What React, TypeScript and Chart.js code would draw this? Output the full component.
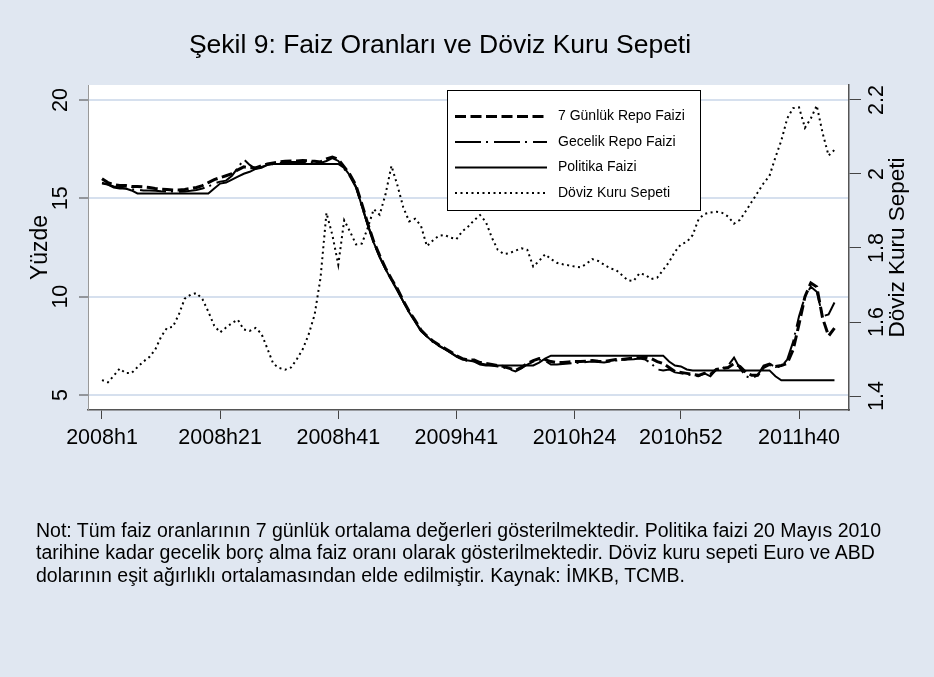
import React, { useEffect, useRef } from 'react';
import { Chart, registerables } from 'chart.js';

Chart.register(...registerables);

const FONT = "'Liberation Sans', Arial, Helvetica, sans-serif";
const BG = '#e0e7f1';
const GRID = '#d6e0ee';

const TITLE = 'Şekil 9: Faiz Oranları ve Döviz Kuru Sepeti';
const NOTE_LINES = [
  'Not: Tüm faiz oranlarının 7 günlük ortalama değerleri gösterilmektedir. Politika faizi 20 Mayıs 2010',
  'tarihine kadar gecelik borç alma faiz oranı olarak gösterilmektedir. Döviz kuru sepeti Euro ve ABD',
  'dolarının eşit ağırlıklı ortalamasından elde edilmiştir. Kaynak: İMKB, TCMB.',
];
const SERIES_NAMES = ['7 Günlük Repo Faizi', 'Gecelik Repo Faizi', 'Politika Faizi', 'Döviz Kuru Sepeti'];
const LEFT_TITLE = 'Yüzde';
const RIGHT_TITLE = 'Döviz Kuru Sepeti';

const X_TICK_POS = [0, 20, 40, 60, 80, 98, 118];
const X_TICK_LABELS = ['2008h1', '2008h21', '2008h41', '2009h41', '2010h24', '2010h52', '2011h40'];
const LEFT_TICKS = [5, 10, 15, 20];
const RIGHT_TICKS = [1.4, 1.6, 1.8, 2, 2.2];

// observation index (weekly observations, 125 of them)
const OBS = Array.from({ length: 125 }, (_, i) => i);

const REPO_7 = [
  16.0, 15.8, 15.7, 15.65, 15.65, 15.6, 15.6, 15.58, 15.55, 15.5,
  15.47, 15.45, 15.43, 15.42, 15.45, 15.5, 15.55, 15.65, 15.8, 15.95,
  16.05, 16.15, 16.25, 16.45, 16.6, 16.55, 16.55, 16.65, 16.75, 16.8,
  16.85, 16.88, 16.9, 16.9, 16.92, 16.9, 16.88, 16.85, 17.0, 17.1,
  16.98, 16.6, 16.2, 15.65, 14.7, 13.7, 12.8, 12.1, 11.45, 10.9,
  10.4, 9.8, 9.25, 8.8, 8.3, 8.0, 7.75, 7.55, 7.38, 7.2,
  7.0, 6.85, 6.78, 6.78, 6.65, 6.6, 6.55, 6.5, 6.45, 6.35,
  6.25, 6.4, 6.6, 6.75, 6.85, 6.8, 6.7, 6.65, 6.65, 6.68,
  6.7, 6.7, 6.72, 6.75, 6.72, 6.7, 6.75, 6.8, 6.8, 6.85,
  6.88, 6.9, 6.92, 6.85, 6.7, 6.6, 6.4, 6.2, 6.15, 6.1,
  6.05, 6.0, 6.1, 6.05, 6.3, 6.35, 6.4, 6.6, 6.45, 6.15,
  6.0, 6.0, 6.4, 6.55, 6.45, 6.5, 6.6, 7.3, 8.6, 10.0,
  10.7, 10.5, 8.9, 8.0, 8.4,
];

const GECELIK = [
  15.8, 15.7, 15.6, 15.55, 15.5, 15.45, 15.45, 15.4, 15.4, 15.38,
  15.36, 15.35, 15.35, 15.33, 15.35, 15.38, 15.42, 15.5, 15.6, 15.75,
  15.85, 15.9, 16.15, 16.55, 16.98, 16.7, 16.5, 16.55, 16.7, 16.75,
  16.8, 16.82, 16.85, 16.85, 16.85, 16.85, 16.82, 16.8, 16.9, 17.05,
  16.9, 16.5, 16.1, 15.55, 14.6, 13.65, 12.75, 12.0, 11.4, 10.85,
  10.3, 9.75, 9.2, 8.75, 8.28, 7.98, 7.7, 7.5, 7.33, 7.15,
  6.95, 6.8, 6.72, 6.72, 6.6, 6.55, 6.5, 6.45, 6.4, 6.3,
  6.2, 6.35, 6.55, 6.7, 6.8, 6.75, 6.55, 6.55, 6.58, 6.6,
  6.62, 6.65, 6.68, 6.7, 6.68, 6.65, 6.7, 6.75, 6.78, 6.8,
  6.82, 6.85, 6.8, 6.6, 6.3, 6.25, 6.3, 6.15, 6.1, 6.05,
  6.0, 5.95, 6.1, 5.95, 6.3, 6.35, 6.5, 6.9, 6.35, 5.95,
  5.85, 6.0, 6.5, 6.6, 6.4, 6.45, 6.8, 7.7, 9.0, 10.0,
  10.5, 10.25, 9.0, 9.1, 9.7,
];

const POLITIKA = [
  15.75, 15.7, 15.55, 15.5, 15.5, 15.4, 15.25, 15.25, 15.25, 15.25,
  15.25, 15.25, 15.25, 15.25, 15.25, 15.25, 15.25, 15.25, 15.25, 15.5,
  15.75, 15.8, 15.95, 16.1, 16.25, 16.35, 16.5, 16.6, 16.7, 16.75,
  16.75, 16.75, 16.75, 16.75, 16.75, 16.75, 16.75, 16.75, 16.75, 16.75,
  16.75, 16.55, 16.15, 15.6, 14.6, 13.65, 12.75, 12.05, 11.4, 10.85,
  10.35, 9.75, 9.2, 8.73, 8.25, 7.97, 7.72, 7.52, 7.35, 7.15,
  6.98, 6.8, 6.75, 6.7, 6.55, 6.5, 6.5, 6.5, 6.5, 6.5,
  6.5, 6.5, 6.5, 6.5, 6.65, 6.85, 7.0, 7.0, 7.0, 7.0,
  7.0, 7.0, 7.0, 7.0, 7.0, 7.0, 7.0, 7.0, 7.0, 7.0,
  7.0, 7.0, 7.0, 7.0, 7.0, 7.0, 6.7, 6.5, 6.45, 6.3,
  6.25, 6.25, 6.25, 6.25, 6.25, 6.25, 6.25, 6.25, 6.25, 6.25,
  6.25, 6.25, 6.25, 6.25, 5.95, 5.75, 5.75, 5.75, 5.75, 5.75,
  5.75, 5.75, 5.75, 5.75, 5.75,
];

const DOVIZ = [
  1.443, 1.437, 1.455, 1.474, 1.462, 1.462, 1.478, 1.493, 1.505, 1.525,
  1.56, 1.584, 1.587, 1.62, 1.663, 1.674, 1.678, 1.662, 1.628, 1.59,
  1.572, 1.585, 1.597, 1.606, 1.58, 1.576, 1.584, 1.568, 1.528, 1.487,
  1.476, 1.471, 1.477, 1.5, 1.527, 1.567, 1.62, 1.72, 1.895, 1.835,
  1.755, 1.875, 1.844, 1.81, 1.812, 1.855, 1.905, 1.89, 1.945, 2.022,
  1.97, 1.91, 1.872, 1.879, 1.86, 1.805, 1.82, 1.833, 1.835, 1.828,
  1.824, 1.845, 1.858, 1.875, 1.889, 1.87, 1.828, 1.795, 1.784, 1.786,
  1.793, 1.799, 1.795, 1.75, 1.765, 1.783, 1.77, 1.76, 1.756, 1.753,
  1.75, 1.748, 1.757, 1.77, 1.765, 1.755, 1.745, 1.741, 1.727, 1.713,
  1.711, 1.732, 1.727, 1.716, 1.72, 1.741, 1.762, 1.79, 1.81, 1.816,
  1.835, 1.878, 1.892, 1.896, 1.898, 1.895, 1.885, 1.866, 1.876, 1.9,
  1.925, 1.95, 1.975, 1.995, 2.045, 2.09, 2.15, 2.178, 2.18, 2.125,
  2.15, 2.185, 2.11, 2.05, 2.065,
];

const bgPlugin = {
  id: 'bgPlugin',
  beforeDraw(chart: any) {
    const { ctx, chartArea } = chart;
    ctx.save();
    ctx.fillStyle = BG;
    ctx.fillRect(0, 0, chart.width, chart.height);
    ctx.fillStyle = '#ffffff';
    ctx.fillRect(chartArea.left, chartArea.top, chartArea.right - chartArea.left, chartArea.bottom - chartArea.top);
    ctx.restore();
  },
};

function rotText(ctx: any, text: string, x: number, y: number) {
  ctx.save();
  ctx.translate(x, y);
  ctx.rotate(-Math.PI / 2);
  ctx.fillText(text, 0, 0);
  ctx.restore();
}

const textPlugin = {
  id: 'textPlugin',
  afterDraw(chart: any) {
    const { ctx, chartArea } = chart;
    const yl = chart.scales.y;
    const yr = chart.scales.y2;
    ctx.save();
    ctx.fillStyle = '#000';
    ctx.textAlign = 'center';
    ctx.textBaseline = 'middle';

    // title
    ctx.font = `26.5px ${FONT}`;
    ctx.fillText(TITLE, 440, 46);

    // tick labels (rotated)
    ctx.font = `21.5px ${FONT}`;
    LEFT_TICKS.forEach((v) => rotText(ctx, String(v), 61, yl.getPixelForValue(v)));
    RIGHT_TICKS.forEach((v) => rotText(ctx, String(v), 877, yr.getPixelForValue(v)));

    // axis titles
    const cy = (chartArea.top + chartArea.bottom) / 2;
    ctx.font = `23px ${FONT}`;
    rotText(ctx, LEFT_TITLE, 41, cy);
    ctx.font = `22.5px ${FONT}`;
    rotText(ctx, RIGHT_TITLE, 898, cy);

    // legend
    const lx = 447, ly = 90, lw = 253, lh = 120;
    ctx.fillStyle = '#ffffff';
    ctx.fillRect(lx, ly, lw, lh);
    ctx.strokeStyle = '#000';
    ctx.lineWidth = 1;
    ctx.setLineDash([]);
    ctx.strokeRect(lx + 0.5, ly + 0.5, lw, lh);
    const rows = [116.5, 142, 167.5, 193];
    chart.data.datasets.forEach((ds: any, i: number) => {
      const y = rows[i];
      ctx.save();
      ctx.strokeStyle = '#000';
      ctx.lineWidth = ds.borderWidth;
      ctx.setLineDash(ds.borderDash || []);
      ctx.beginPath();
      ctx.moveTo(455, y);
      ctx.lineTo(547, y);
      ctx.stroke();
      ctx.restore();
      ctx.fillStyle = '#000';
      ctx.font = `14px ${FONT}`;
      ctx.textAlign = 'left';
      ctx.fillText(SERIES_NAMES[i], 558, y);
    });
    ctx.restore();
  },
};

export default function App() {
  const ref = useRef<HTMLCanvasElement>(null);

  useEffect(() => {
    const canvas = ref.current;
    if (!canvas) return;
    const chart = new Chart(canvas, {
      type: 'line',
      data: {
        labels: OBS,
        datasets: [
          { label: SERIES_NAMES[0], data: REPO_7, yAxisID: 'y', borderColor: '#000', borderWidth: 3, borderDash: [11, 4.5], pointRadius: 0, tension: 0, fill: false },
          { label: SERIES_NAMES[1], data: GECELIK, yAxisID: 'y', borderColor: '#000', borderWidth: 2, borderDash: [26, 5, 2, 6], pointRadius: 0, tension: 0, fill: false },
          { label: SERIES_NAMES[2], data: POLITIKA, yAxisID: 'y', borderColor: '#000', borderWidth: 2, pointRadius: 0, tension: 0, fill: false },
          { label: SERIES_NAMES[3], data: DOVIZ, yAxisID: 'y2', borderColor: '#000', borderWidth: 2, borderDash: [2, 3.5], pointRadius: 0, tension: 0, fill: false },
        ],
      },
      options: {
        responsive: false,
        animation: false,
        devicePixelRatio: 1,
        layout: { autoPadding: false, padding: { top: 85, bottom: 227, left: 0, right: 0 } },
        plugins: { legend: { display: false }, tooltip: { enabled: false }, title: { display: false } },
        scales: {
          x: {
            type: 'linear',
            min: -2.37,
            max: 126.46,
            afterBuildTicks: (s: any) => { s.ticks = X_TICK_POS.map((v) => ({ value: v })); },
            afterFit: (s: any) => { s.height = 40; },
            grid: { drawOnChartArea: false, drawTicks: true, tickLength: 9, tickColor: '#444', tickWidth: 1 },
            border: { display: true, color: '#555', width: 1.5 },
            ticks: {
              autoSkip: false,
              maxRotation: 0,
              minRotation: 0,
              padding: 6,
              color: '#000',
              font: { family: FONT, size: 21.5 },
              callback: (v: any) => {
                const k = X_TICK_POS.indexOf(Number(v));
                return k >= 0 ? X_TICK_LABELS[k] : '';
              },
            },
          },
          y: {
            type: 'linear',
            position: 'left',
            min: 4.237,
            max: 20.763,
            afterBuildTicks: (s: any) => { s.ticks = LEFT_TICKS.map((v) => ({ value: v })); },
            afterFit: (s: any) => { s.width = 88; },
            grid: { color: GRID, lineWidth: 2, drawTicks: true, tickLength: 9, tickColor: '#444', tickWidth: 1 },
            border: { display: true, color: '#999', width: 1 },
            ticks: { display: false },
          },
          y2: {
            type: 'linear',
            position: 'right',
            min: 1.3622,
            max: 2.2405,
            afterBuildTicks: (s: any) => { s.ticks = RIGHT_TICKS.map((v) => ({ value: v })); },
            afterFit: (s: any) => { s.width = 85; },
            grid: { drawOnChartArea: false, drawTicks: true, tickLength: 12, tickColor: '#444', tickWidth: 1 },
            border: { display: true, color: '#555', width: 1.5 },
            ticks: { display: false },
          },
        },
      },
      plugins: [bgPlugin, textPlugin],
    } as any);
    return () => chart.destroy();
  }, []);

  return (
    <div style={{ position: 'fixed', left: 0, top: 0, width: 934, height: 677, background: BG, overflow: 'hidden' }}>
      <canvas ref={ref} width={934} height={677} style={{ display: 'block', width: 934, height: 677 }} />
      <div
        style={{
          position: 'absolute',
          left: 36,
          top: 518.7,
          fontFamily: FONT,
          fontSize: 19.5,
          lineHeight: '22.5px',
          color: '#000',
          whiteSpace: 'nowrap',
        }}
      >
        {NOTE_LINES.map((l, i) => (
          <div key={i}>{l}</div>
        ))}
      </div>
    </div>
  );
}
